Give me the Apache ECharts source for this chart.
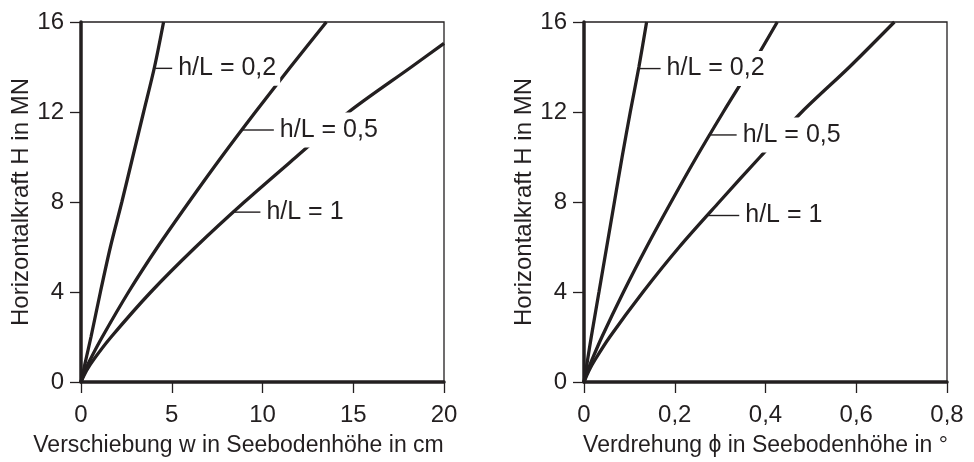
<!DOCTYPE html>
<html>
<head>
<meta charset="utf-8">
<script src="https://cdn.jsdelivr.net/npm/echarts@6/dist/echarts.min.js"></script>
<style>
  html, body { margin: 0; padding: 0; background: #fff; }
  #chart { width: 974px; height: 462px; }
</style>
</head>
<body>
<div id="chart"></div>
<script>
// Horizontal force levels (MN) at which the curves are sampled
const forceLevels = [0, 0.5, 1, 2, 4, 6, 8, 10, 12, 14, 16];
const forceLevelsLongCurve = [0, 0.5, 1, 2, 4, 6, 8, 10, 12, 14, 15.05];

// Displacement w at seabed level (cm)
const dispH02 = [0, 0.135, 0.27, 0.55, 1.07, 1.62, 2.25, 2.85, 3.45, 4.05, 4.55];
const dispH05 = [0, 0.22, 0.51, 1.17, 2.62, 4.22, 5.95, 7.74, 9.61, 11.54, 13.52];
const dispH1  = [0, 0.3, 0.7, 1.66, 3.85, 6.32, 9.0, 11.85, 14.75, 18.2, 20];

// Rotation phi at seabed level (degrees)
const rotH02 = [0, 0.004, 0.008, 0.016, 0.033, 0.050, 0.067, 0.084, 0.102, 0.121, 0.138];
const rotH05 = [0, 0.0081, 0.0179, 0.0394, 0.087, 0.138, 0.192, 0.248, 0.307, 0.368, 0.426];
const rotH1  = [0, 0.0108, 0.0247, 0.0567, 0.130, 0.210, 0.298, 0.388, 0.480, 0.585, 0.684];

// Axis ticks
const forceTicks = [0, 4, 8, 12, 16];
const dispTicks = [0, 5, 10, 15, 20];
const rotTicks = [0, 0.2, 0.4, 0.6, 0.8];

// Curve labels and the force level where each label is attached
const curveNames = ['h/L = 0,2', 'h/L = 0,5', 'h/L = 1'];
const labelForceDisp = [13.94, 11.2, 7.55];
const labelForceRot = [13.93, 10.98, 7.40];

const INK = '#231f20';
const FONT = "'Liberation Sans', Arial, sans-serif";

function pairs(xs, ys) { return xs.map((x, i) => [x, ys[i]]); }

// x value of a curve at a given force, by linear interpolation
function xAtForce(xs, ys, h) {
  for (let i = 1; i < ys.length; i++) {
    if (h <= ys[i]) {
      const t = (h - ys[i - 1]) / (ys[i] - ys[i - 1]);
      return xs[i - 1] + t * (xs[i] - xs[i - 1]);
    }
  }
  return xs[xs.length - 1];
}

const dispCurves = [
  { xs: dispH02, ys: forceLevels },
  { xs: dispH05, ys: forceLevels },
  { xs: dispH1, ys: forceLevelsLongCurve }
];
const rotCurves = [
  { xs: rotH02, ys: forceLevels },
  { xs: rotH05, ys: forceLevels },
  { xs: rotH1, ys: forceLevels }
];

function xAxisCfg(gridIndex, ticks, name, fmt, namePad) {
  return {
    gridIndex, type: 'value',
    min: ticks[0], max: ticks[ticks.length - 1], interval: ticks[1] - ticks[0],
    axisLine: { show: true, onZero: false, lineStyle: { color: INK, width: 3.5 } },
    axisTick: { show: true, length: 11, lineStyle: { color: INK, width: 1.3 } },
    axisLabel: { fontSize: 24, fontFamily: FONT, color: INK, margin: 21, formatter: fmt },
    splitLine: { show: false },
    name, nameLocation: 'middle', nameGap: 52,
    nameTextStyle: { fontSize: 23, fontFamily: FONT, color: INK, padding: namePad }
  };
}
function yAxisCfg(gridIndex) {
  return {
    gridIndex, type: 'value',
    min: forceTicks[0], max: forceTicks[forceTicks.length - 1], interval: forceTicks[1] - forceTicks[0],
    axisLine: { show: true, onZero: false, lineStyle: { color: INK, width: 3.5 } },
    axisTick: { show: true, length: 11, lineStyle: { color: INK, width: 1.3 } },
    axisLabel: { fontSize: 24, fontFamily: FONT, color: INK, margin: 17 },
    splitLine: { show: false },
    name: 'Horizontalkraft H in MN', nameLocation: 'middle', nameGap: 43,
    nameTextStyle: { fontSize: 24, fontFamily: FONT, color: INK }
  };
}

const commaFmt = v => String(v).replace('.', ',');

function curveSeries(curves, axisIndex) {
  return curves.map((c, i) => ({
    type: 'line', name: curveNames[i],
    xAxisIndex: axisIndex, yAxisIndex: axisIndex,
    data: pairs(c.xs, c.ys),
    smooth: 0.3, showSymbol: false, symbol: 'none',
    lineStyle: { color: INK, width: 3.3 },
    z: 2
  }));
}

const chart = echarts.init(document.getElementById('chart'), null, { renderer: 'canvas' });
chart.setOption({
  animation: false,
  backgroundColor: '#fff',
  grid: [
    { left: 81, top: 22, width: 363, height: 362, show: true, borderColor: INK, borderWidth: 1.3, containLabel: false },
    { left: 584, top: 22, width: 363, height: 362, show: true, borderColor: INK, borderWidth: 1.3, containLabel: false }
  ],
  xAxis: [
    xAxisCfg(0, dispTicks, 'Verschiebung w in Seebodenhöhe in cm', undefined, [0, 48, 0, 0]),
    xAxisCfg(1, rotTicks, 'Verdrehung \u03D5 in Seebodenhöhe in °', commaFmt, 0)
  ],
  yAxis: [yAxisCfg(0), yAxisCfg(1)],
  series: [...curveSeries(dispCurves, 0), ...curveSeries(rotCurves, 1)]
});

// Curve labels with short leader lines; white text box masks the curves behind it
const leaderLen = [[18, 32, 27], [22, 27, 32]];
const elements = [];
[[dispCurves, labelForceDisp], [rotCurves, labelForceRot]].forEach(([curves, forces], g) => {
  curves.forEach((c, i) => {
    const h = forces[i];
    const p = chart.convertToPixel({ gridIndex: g }, [xAtForce(c.xs, c.ys, h), h]);
    const len = leaderLen[g][i];
    elements.push({
      type: 'line', z: 50,
      shape: { x1: p[0] + 1, y1: p[1], x2: p[0] + len, y2: p[1] },
      style: { stroke: INK, lineWidth: 1.4 }
    });
    elements.push({
      type: 'text', z: 60,
      x: p[0] + len + 2, y: p[1],
      style: {
        text: curveNames[i], fill: INK, font: '25px ' + FONT,
        verticalAlign: 'middle', align: 'left',
        backgroundColor: '#fff', padding: [5, 4, 5, 4]
      }
    });
  });
});
chart.setOption({ graphic: { elements } });
</script>
</body>
</html>
